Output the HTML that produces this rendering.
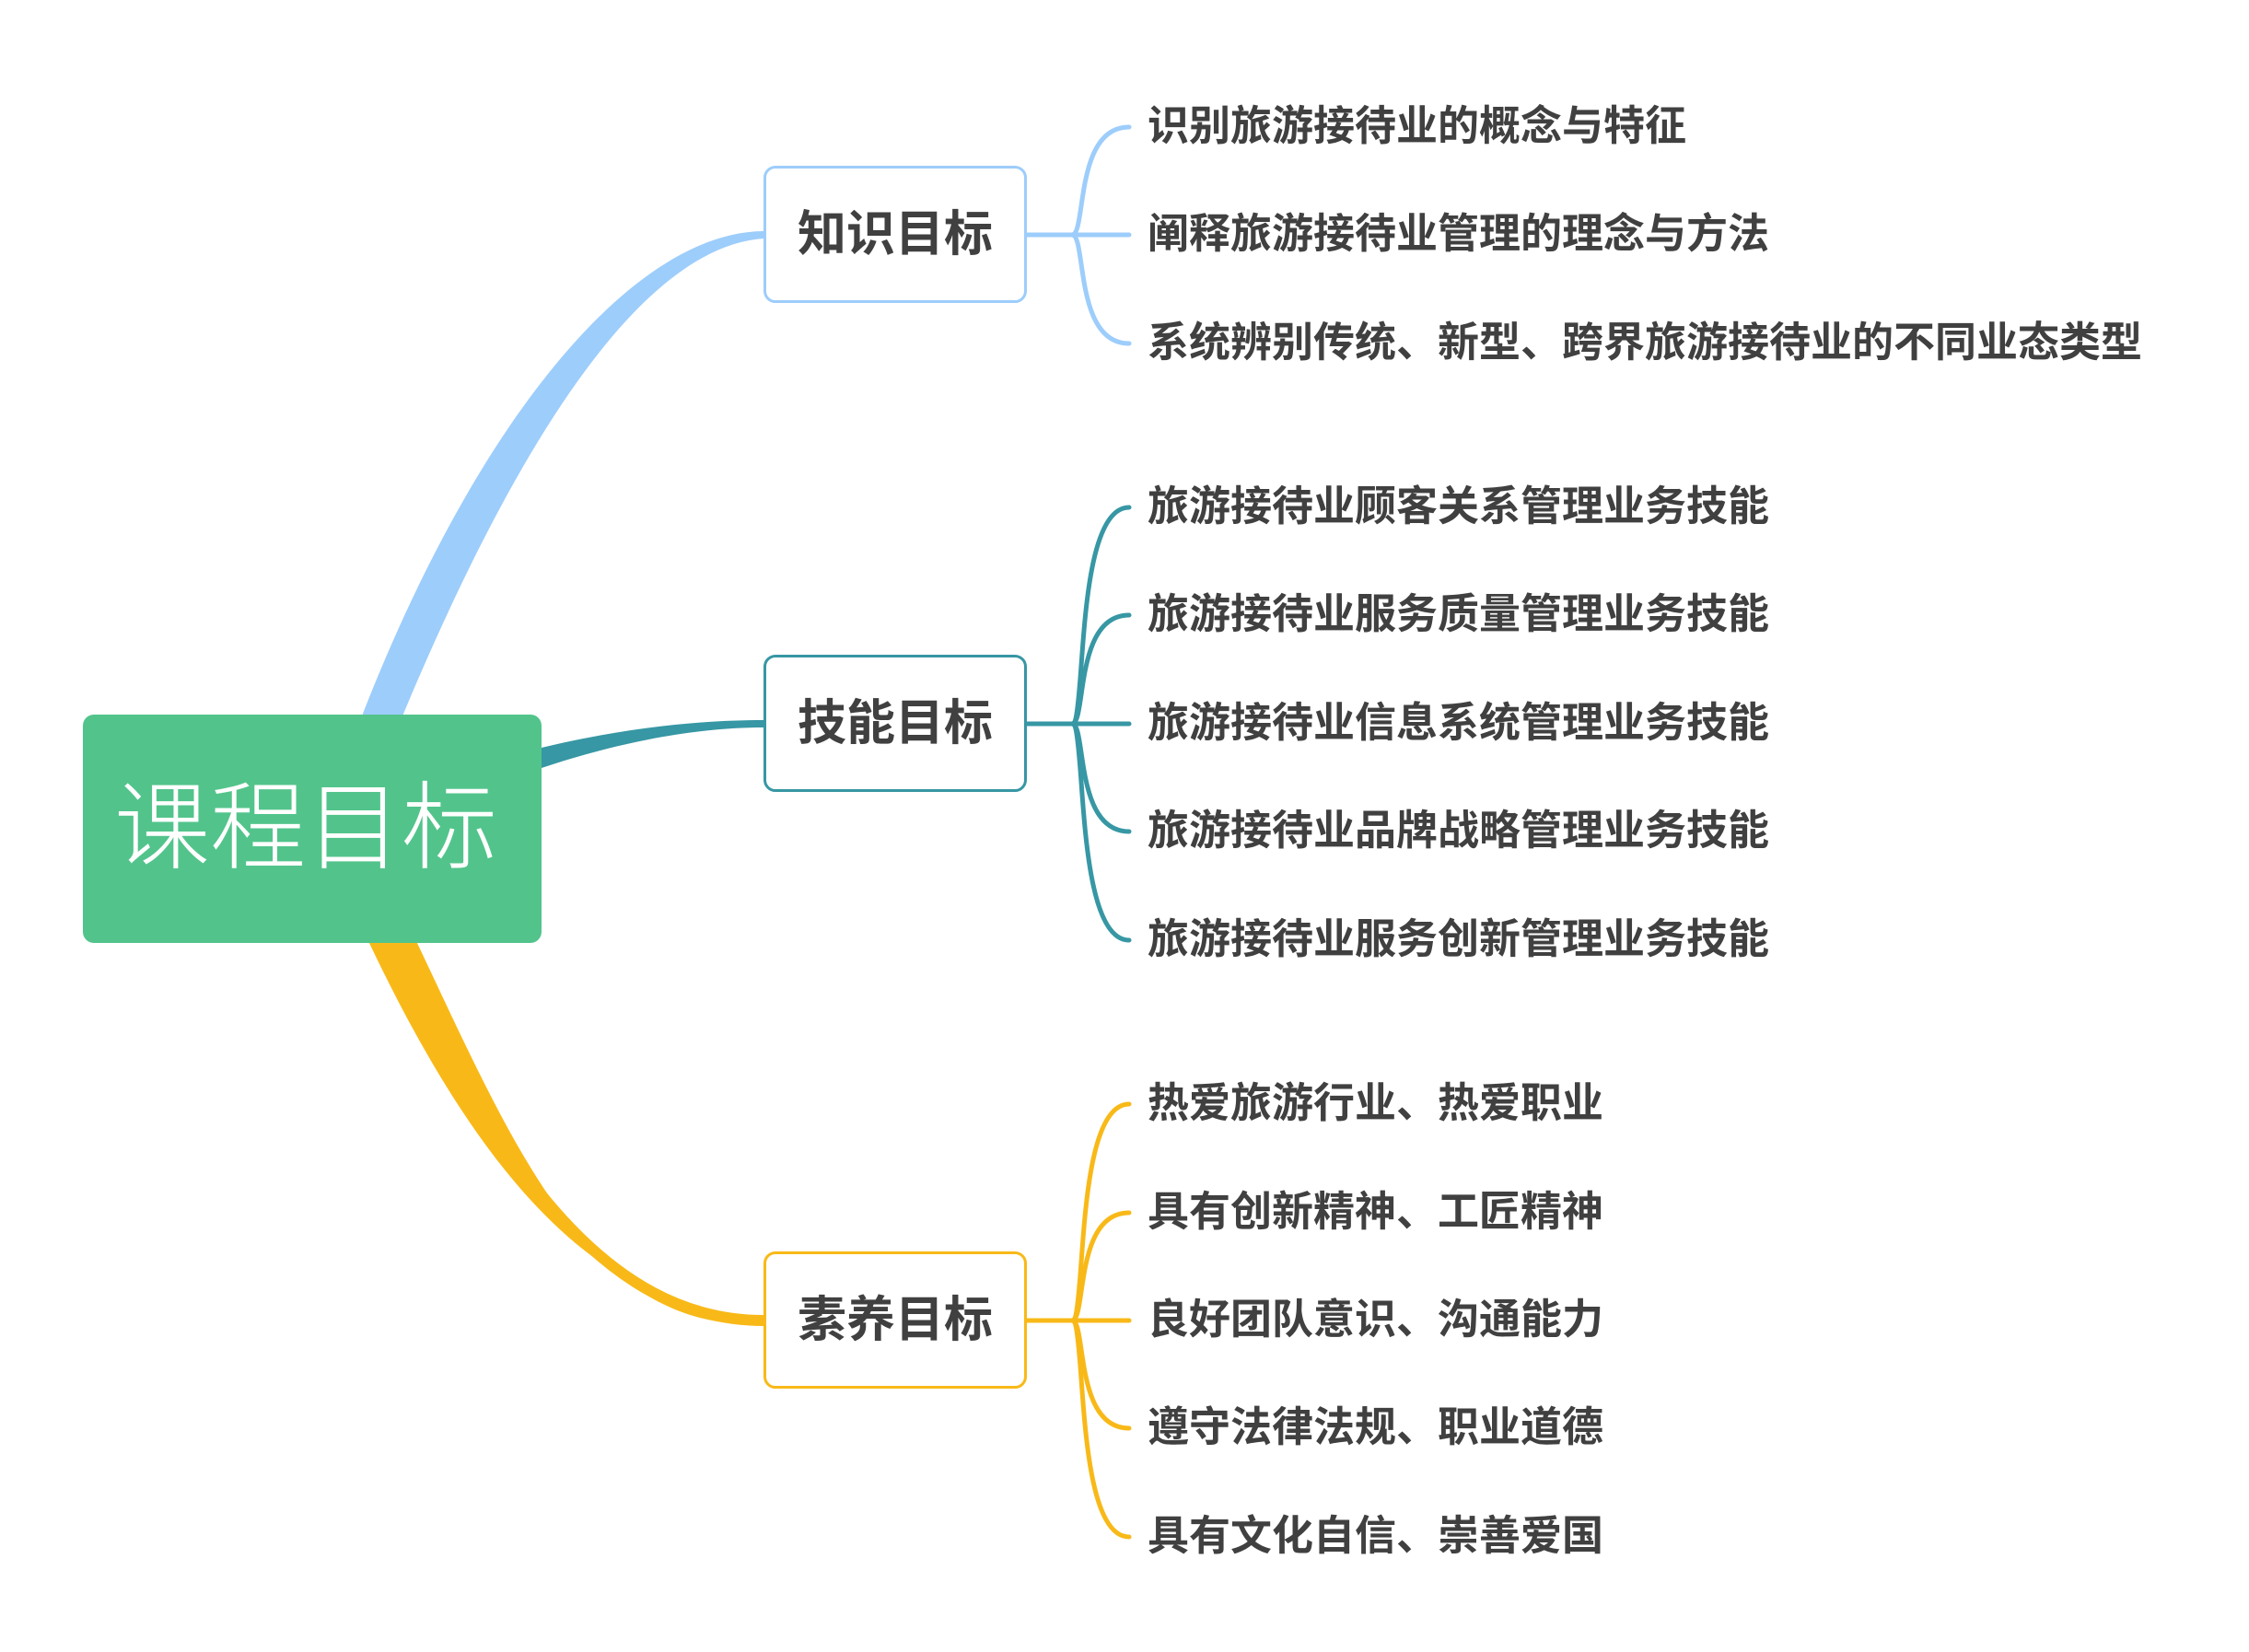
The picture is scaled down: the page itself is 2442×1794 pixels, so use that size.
<!DOCTYPE html>
<html><head><meta charset="utf-8"><style>
html,body{margin:0;padding:0;background:#fff;}
body{width:2442px;height:1794px;position:relative;overflow:hidden;font-family:"Liberation Sans","Noto Sans CJK SC",sans-serif;}
.root{position:absolute;left:90px;top:776px;width:498px;height:248px;background:#52C48B;border-radius:12px;color:#fff;font-size:104px;line-height:248px;text-align:center;font-weight:300;text-indent:-14px;}
.box{position:absolute;left:829px;width:280px;height:143px;border:3px solid;border-radius:13px;background:#fff;color:#404040;font-size:53px;font-weight:bold;line-height:143px;text-align:center;box-sizing:content-box;}
.leaf{position:absolute;left:1246px;color:#404040;font-size:45px;font-weight:bold;line-height:60px;white-space:nowrap;}
svg{position:absolute;left:0;top:0;}
</style></head><body>
<svg width="2442" height="1794" viewBox="0 0 2442 1794">
<path d="M392,780 C520,450 690,252 829,251 L829,259 C700,268 565,470 436,780 Z" fill="#9DCDFB"/>
<path d="M588,812 C680,790 760,782 829,782 L829,790 C770,790 690,800 588,834 Z" fill="#3797A4"/>
<path d="M400,1022 C520,1275 650,1428 829,1430 L829,1438 C640,1446 560,1250 452,1022 Z" fill="#F8B918"/>
<path d="M426,1022 C540,1262 655,1434 829,1434" fill="none" stroke="#F8B918" stroke-width="12"/>
<g fill="none" stroke="#9DCDFB" stroke-width="5" stroke-linecap="round">
<path d="M1112,255 L1226,255"/>
<path d="M1164,255 C1180,255 1166,138 1226,138"/>
<path d="M1164,255 C1180,255 1166,373 1226,373"/>
</g>
<g fill="none" stroke="#3797A4" stroke-width="5" stroke-linecap="round">
<path d="M1112,786 L1226,786"/>
<path d="M1164,786 C1180,786 1166,551 1226,551"/>
<path d="M1164,786 C1180,786 1166,668 1226,668"/>
<path d="M1164,786 C1180,786 1166,903 1226,903"/>
<path d="M1164,786 C1180,786 1166,1021 1226,1021"/>
</g>
<g fill="none" stroke="#F8B918" stroke-width="5" stroke-linecap="round">
<path d="M1112,1434 L1226,1434"/>
<path d="M1164,1434 C1180,1434 1166,1199 1226,1199"/>
<path d="M1164,1434 C1180,1434 1166,1317 1226,1317"/>
<path d="M1164,1434 C1180,1434 1166,1551 1226,1551"/>
<path d="M1164,1434 C1180,1434 1166,1669 1226,1669"/>
</g>
</svg>
<div class="root">课程目标</div>
<div class="box" style="top:180px;border-color:#9DCDFB;">知识目标</div>
<div class="box" style="top:711px;border-color:#3797A4;">技能目标</div>
<div class="box" style="top:1359px;border-color:#F8B918;">素养目标</div>
<div class="leaf" style="top:107px">识别旅游接待业的概念与特征</div>
<div class="leaf" style="top:224px">阐释旅游接待业管理的理念与方法</div>
<div class="leaf" style="top:342px">系统辨别传统、新型、跨界旅游接待业的不同业态类型</div>
<div class="leaf" style="top:520px">旅游接待业顾客关系管理业务技能</div>
<div class="leaf" style="top:637px">旅游接待业服务质量管理业务技能</div>
<div class="leaf" style="top:755px">旅游接待业信息系统管理业务技能</div>
<div class="leaf" style="top:872px">旅游接待业品牌战略管理业务技能</div>
<div class="leaf" style="top:990px">旅游接待业服务创新管理业务技能</div>
<div class="leaf" style="top:1168px">热爱旅游行业、热爱职业</div>
<div class="leaf" style="top:1286px">具有创新精神、工匠精神</div>
<div class="leaf" style="top:1403px">良好团队意识、沟通能力</div>
<div class="leaf" style="top:1520px">遵守法律法规、职业道德</div>
<div class="leaf" style="top:1638px">具有文化自信、崇善爱国</div>
</body></html>
